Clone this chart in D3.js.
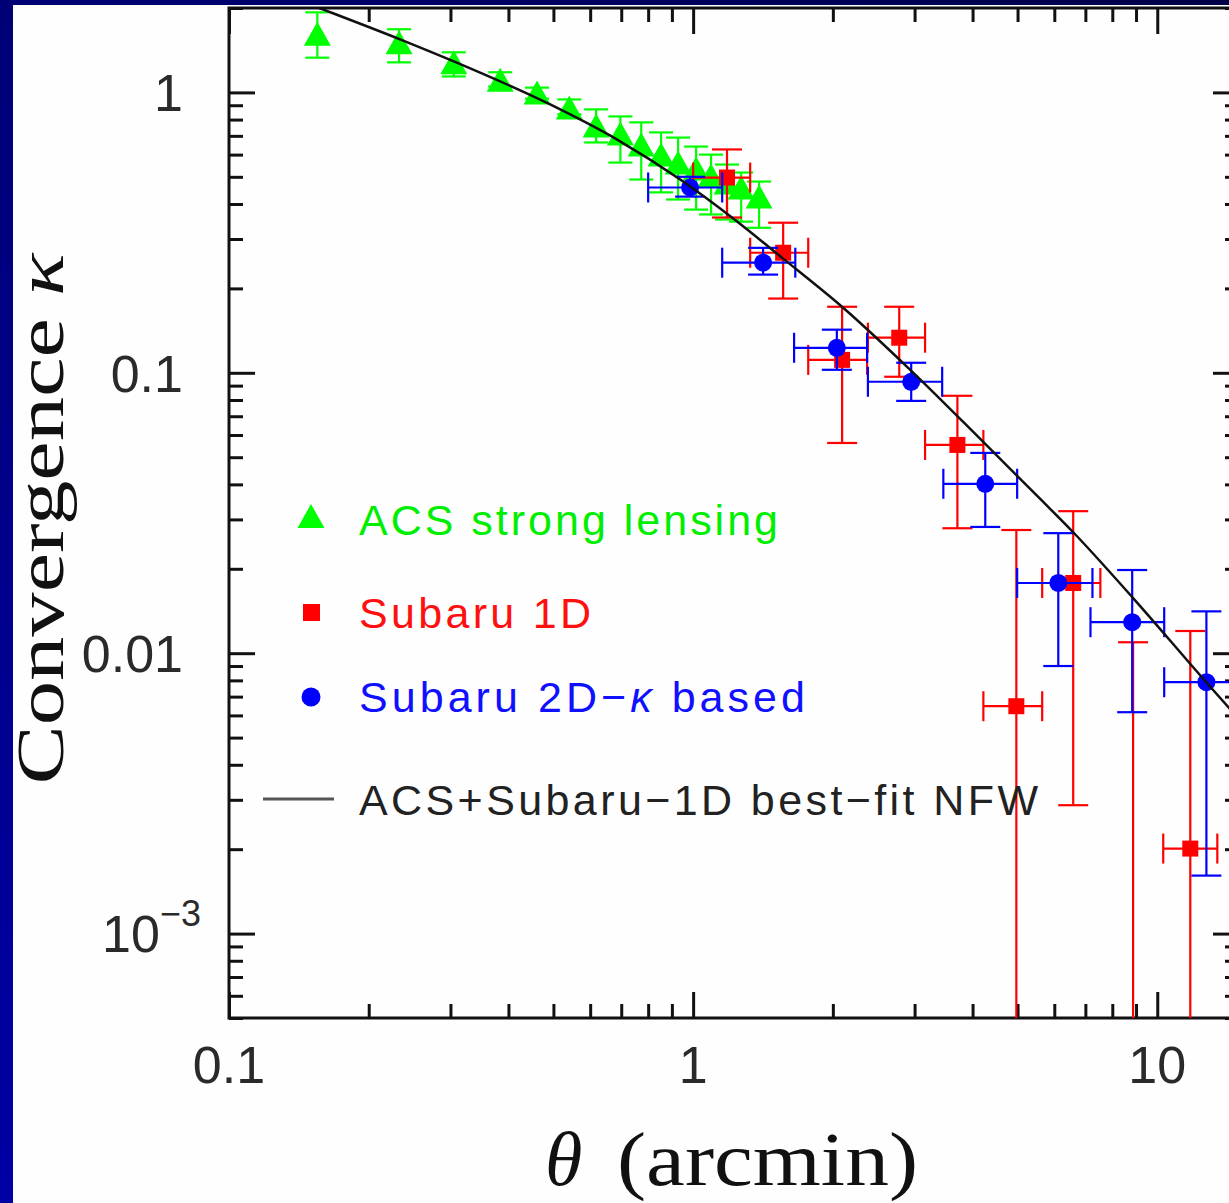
<!DOCTYPE html>
<html>
<head>
<meta charset="utf-8">
<script src="https://cdn.jsdelivr.net/npm/d3@7"></script>
<style>
  body { margin: 0; background: #00008a; overflow: hidden; }
  svg { display: block; }
</style>
</head>
<body>
<svg id="chart" width="1229" height="1203"></svg>
<script>
// ACS strong lensing: theta, kappa, kappa low, kappa high
const acsTheta = [0.155, 0.2325, 0.305, 0.384, 0.461, 0.541, 0.618, 0.697, 0.773, 0.853, 0.928, 1.015, 1.093, 1.183, 1.269, 1.387];
const acsKappa = [1.62, 1.51, 1.28, 1.11, 1.0, 0.884, 0.762, 0.714, 0.652, 0.601, 0.562, 0.535, 0.505, 0.477, 0.458, 0.425];
const acsLo    = [1.33, 1.28, 1.14, 1.05, 0.95, 0.835, 0.663, 0.562, 0.489, 0.44, 0.415, 0.382, 0.367, 0.352, 0.346, 0.329];
const acsHi    = [1.93, 1.68, 1.39, 1.18, 1.04, 0.944, 0.87, 0.821, 0.782, 0.72, 0.69, 0.641, 0.60, 0.553, 0.518, 0.481];

// Subaru 1D (points below the axis have no visible marker)
const s1Theta = [1.183, 1.563, 2.094, 2.78, 3.71, 4.97, 6.59, 8.87, 11.78];
const s1ThLo  = [1.0, 1.327, 1.77, 2.38, 3.16, 4.22, 5.65, 7.54, 10.3];
const s1ThHi  = [1.327, 1.77, 2.37, 3.16, 4.22, 5.65, 7.54, 10.3, 13.47];
const s1Kappa = [0.497, 0.268, 0.1112, 0.1334, 0.0553, 0.00647, 0.0178, 0.0002, 0.00201];
const s1Lo    = [0.358, 0.184, 0.0562, 0.0968, 0.0279, 0.00001, 0.00287, 0.00001, 0.00001];
const s1Hi    = [0.626, 0.343, 0.172, 0.172, 0.0828, 0.0275, 0.0321, 0.01094, 0.0120];

// Subaru 2D-kappa based
const s2Theta = [0.985, 1.415, 2.04, 2.95, 4.26, 6.12, 8.83, 12.76];
const s2ThLo  = [0.800, 1.155, 1.65, 2.38, 3.46, 4.99, 7.18, 10.35];
const s2ThHi  = [1.155, 1.66, 2.37, 3.44, 4.99, 7.25, 10.35, 15.8];
const s2Kappa = [0.458, 0.247, 0.1228, 0.0929, 0.0402, 0.0178, 0.0129, 0.00788];
const s2Lo    = [0.425, 0.224, 0.1025, 0.0794, 0.0282, 0.0090, 0.00616, 0.00161];
const s2Hi    = [0.50, 0.279, 0.1425, 0.1086, 0.0518, 0.0268, 0.0198, 0.0141];

// best-fit NFW curve, sampled from the figure
const nfwTheta = [0.129, 0.155, 0.2336, 0.305, 0.492, 0.686, 0.952, 1.22, 1.563, 2.105, 2.936, 4.217, 5.595, 6.59, 8.87, 12.75, 15.09];
const nfwKappa = [2.26, 2.012, 1.546, 1.29, 0.906, 0.679, 0.481, 0.355, 0.2554, 0.1707, 0.1025, 0.0567, 0.0355, 0.0270, 0.01572, 0.00788, 0.00576];

const xTickLabels = [[0.1, "0.1"], [1, "1"], [10, "10"]];
const yTickLabels = [[1, "1"], [0.1, "0.1"], [0.01, "0.01"]];

const legendLabels = ["ACS strong lensing", "Subaru 1D", "Subaru 2D\u2212", " based", "ACS+Subaru\u22121D best\u2212fit NFW"];

const margin = { top: 8, left: 229 };
const width = 1010, height = 1010;

const svg = d3.select("#chart");

// background: dark blue frame, white page
const defs = svg.append("defs");
const grad = defs.append("linearGradient").attr("id", "bg")
    .attr("x1", 1).attr("y1", 0).attr("x2", 0).attr("y2", 1);
grad.append("stop").attr("offset", 0).attr("stop-color", "#000048");
grad.append("stop").attr("offset", 1).attr("stop-color", "#0000a4");
svg.append("rect").attr("width", 1229).attr("height", 1203).attr("fill", "url(#bg)");
svg.append("rect").attr("x", 13).attr("y", 5).attr("width", 1229).attr("height", 1203).attr("fill", "#fefefe");

defs.append("clipPath").attr("id", "plotclip")
    .append("rect").attr("width", width).attr("height", height);

const g = svg.append("g").attr("transform", `translate(${margin.left},${margin.top})`);

const x = d3.scaleLog().domain([0.1, 15]).range([0, width]);
const y = d3.scaleLog().domain([5e-4, 2]).range([height, 0]);

const isMajor = v => Math.abs(Math.log10(v) - Math.round(Math.log10(v))) < 1e-9;
const xMinor = x.ticks().filter(v => !isMajor(v));
const xMajor = x.ticks().filter(v => isMajor(v));
const yMinor = y.ticks().filter(v => !isMajor(v));
const yMajor = y.ticks().filter(v => isMajor(v));

// inward ticks on all four sides
function ticks(axis, values, size, transform) {
    const a = g.append("g").attr("transform", transform)
        .call(axis.tickValues(values).tickSize(-size).tickSizeOuter(0).tickFormat(""));
    a.select(".domain").remove();
    a.selectAll("line").attr("stroke", "#111").attr("stroke-width", 3);
}
ticks(d3.axisBottom(x), xMinor, 14, `translate(0,${height})`);
ticks(d3.axisBottom(x), xMajor, 26, `translate(0,${height})`);
ticks(d3.axisTop(x), xMinor, 14, "translate(0,0)");
ticks(d3.axisTop(x), xMajor, 26, "translate(0,0)");
ticks(d3.axisLeft(y), yMinor, 14, "translate(0,0)");
ticks(d3.axisLeft(y), yMajor, 26, "translate(0,0)");
ticks(d3.axisRight(y), yMinor, 14, `translate(${width},0)`);
ticks(d3.axisRight(y), yMajor, 26, `translate(${width},0)`);

g.append("rect").attr("width", width).attr("height", height)
    .attr("fill", "none").attr("stroke", "#111").attr("stroke-width", 3);

// tick labels
const labelFont = "'Liberation Sans', Arial, sans-serif";
g.selectAll(".xlab").data(xTickLabels).enter().append("text")
    .attr("x", d => x(d[0])).attr("y", height + 65)
    .attr("text-anchor", "middle")
    .style("font-family", labelFont).style("font-size", "52px").style("fill", "#2a2a2a")
    .text(d => d[1]);

g.selectAll(".ylab").data(yTickLabels).enter().append("text")
    .attr("x", -46).attr("y", d => y(d[0]) + 19)
    .attr("text-anchor", "end")
    .style("font-family", labelFont).style("font-size", "52px").style("fill", "#2a2a2a")
    .text(d => d[1]);

const pow = g.append("text")
    .attr("x", -28).attr("y", y(0.001) + 18)
    .attr("text-anchor", "end")
    .style("font-family", labelFont).style("font-size", "52px").style("fill", "#2a2a2a");
pow.append("tspan").text("10");
pow.append("tspan").attr("dy", -26).style("font-size", "36px").text("\u22123");

// axis titles
const serif = "'Liberation Serif', 'Times New Roman', serif";
const yTitle = svg.append("text")
    .attr("transform", "translate(63,519) rotate(-90)")
    .attr("text-anchor", "middle")
    .attr("textLength", 531).attr("lengthAdjust", "spacingAndGlyphs")
    .style("font-family", serif).style("font-size", "68px").style("fill", "#111");
yTitle.append("tspan").text("Convergence ");
yTitle.append("tspan").style("font-style", "italic").text("\u03ba");

svg.append("text")
    .attr("x", 545).attr("y", 1185)
    .style("font-family", serif).style("font-size", "76px").style("font-style", "italic").style("fill", "#111")
    .text("\u03b8");
svg.append("text")
    .attr("x", 617).attr("y", 1185)
    .attr("textLength", 301).attr("lengthAdjust", "spacingAndGlyphs")
    .style("font-family", serif).style("font-size", "76px").style("fill", "#111")
    .text("(arcmin)");

// data
const plot = g.append("g").attr("clip-path", "url(#plotclip)");

function errorBars(sel, xs, xlo, xhi, ys, ylo, yhi, color, cap) {
    xs.forEach((xv, i) => {
        const px = x(xv), py = y(ys[i]);
        const grp = sel.append("g").attr("stroke", color).attr("stroke-width", 2.2);
        grp.append("line").attr("x1", px).attr("x2", px).attr("y1", y(ylo[i])).attr("y2", y(yhi[i]));
        [ylo[i], yhi[i]].forEach(v => grp.append("line")
            .attr("x1", px - cap / 2).attr("x2", px + cap / 2).attr("y1", y(v)).attr("y2", y(v)));
        if (xlo) {
            grp.append("line").attr("x1", x(xlo[i])).attr("x2", x(xhi[i])).attr("y1", py).attr("y2", py);
            [xlo[i], xhi[i]].forEach(v => grp.append("line")
                .attr("x1", x(v)).attr("x2", x(v)).attr("y1", py - cap / 2).attr("y2", py + cap / 2));
        }
    });
}

const triPath = "M0,-12L13.5,12L-13.5,12Z";

// ACS strong lensing
errorBars(plot, acsTheta, null, null, acsKappa, acsLo, acsHi, "#00ff00", 24);
plot.selectAll(".tri").data(acsTheta).enter().append("path")
    .attr("d", triPath)
    .attr("transform", (d, i) => `translate(${x(d)},${y(acsKappa[i])})`)
    .attr("fill", "#00ff00");

// Subaru 1D
errorBars(plot, s1Theta, s1ThLo, s1ThHi, s1Kappa, s1Lo, s1Hi, "#ff0000", 30);
plot.selectAll(".sq").data(s1Theta).enter().append("rect")
    .attr("x", d => x(d) - 8).attr("y", (d, i) => y(s1Kappa[i]) - 8)
    .attr("width", 16).attr("height", 16)
    .attr("fill", "#ff0000");

// Subaru 2D
errorBars(plot, s2Theta, s2ThLo, s2ThHi, s2Kappa, s2Lo, s2Hi, "#0000ff", 30);
plot.selectAll(".dot").data(s2Theta).enter().append("circle")
    .attr("cx", d => x(d)).attr("cy", (d, i) => y(s2Kappa[i]))
    .attr("r", 9).attr("fill", "#0000ff");

// NFW curve
plot.append("path")
    .datum(nfwTheta.map((t, i) => [t, nfwKappa[i]]))
    .attr("d", d3.line().x(d => x(d[0])).y(d => y(d[1])).curve(d3.curveMonotoneX))
    .attr("fill", "none").attr("stroke", "#111").attr("stroke-width", 2.5);

// legend
const sans = "'Liberation Sans', Arial, sans-serif";
svg.append("path").attr("d", triPath).attr("transform", "translate(311,516)").attr("fill", "#00ff00");
svg.append("rect").attr("x", 303).attr("y", 604).attr("width", 17).attr("height", 17).attr("fill", "#ff0000");
svg.append("circle").attr("cx", 311).attr("cy", 697).attr("r", 9.5).attr("fill", "#0000ff");
svg.append("line").attr("x1", 263).attr("x2", 334).attr("y1", 799).attr("y2", 799)
    .attr("stroke", "#555").attr("stroke-width", 3);

function legendText(yPos, len, color) {
    return svg.append("text")
        .attr("x", 359).attr("y", yPos)
        .attr("textLength", len).attr("lengthAdjust", "spacing")
        .style("font-family", sans).style("font-size", "43px").style("fill", color);
}
legendText(535, 419, "#00ee00").text(legendLabels[0]);
legendText(628, 232, "#ff1010").text(legendLabels[1]);
const l3 = legendText(712, 446, "#1010ff");
l3.append("tspan").text(legendLabels[2]);
l3.append("tspan").style("font-style", "italic").text("\u03ba");
l3.append("tspan").text(legendLabels[3]);
legendText(815, 679, "#222").text(legendLabels[4]);
</script>
</body>
</html>
